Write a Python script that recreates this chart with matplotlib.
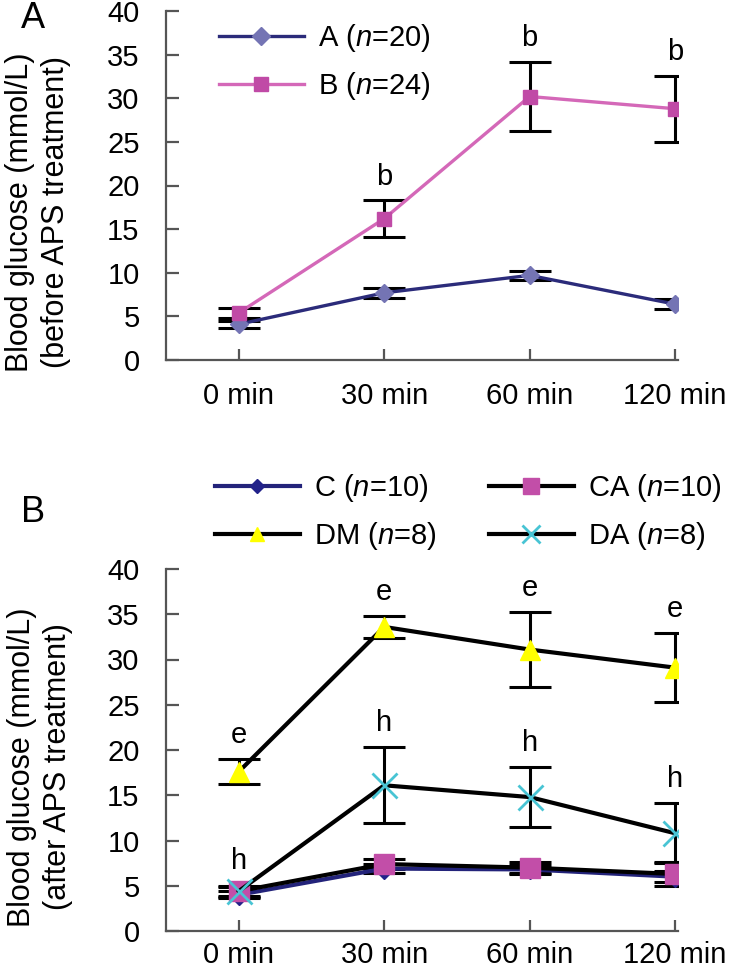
import numpy as np
import matplotlib
matplotlib.use('Agg')
import matplotlib.pyplot as plt

plt.rcParams['font.family'] = ['Liberation Sans', 'DejaVu Sans']
plt.rcParams['mathtext.fontset'] = 'custom'
plt.rcParams['mathtext.it'] = 'Liberation Sans:italic'
plt.rcParams['mathtext.rm'] = 'Liberation Sans'

times = ['0 min', '30 min', '60 min', '120 min']

# panel A (before APS treatment)
a_mean = [4.1, 7.7, 9.7, 6.4]
a_sd = [0.4, 0.6, 0.5, 0.6]
b_mean = [5.4, 16.2, 30.2, 28.8]
b_sd = [0.6, 2.1, 4.0, 3.8]
b_sig = ['', 'b', 'b', 'b']

# panel B (after APS treatment)
c_mean = [4.0, 6.9, 6.8, 6.0]
c_sd = [0.4, 0.5, 0.5, 0.6]
ca_mean = [4.4, 7.4, 7.0, 6.3]
ca_sd = [0.5, 0.6, 0.6, 1.3]
dm_mean = [17.6, 33.6, 31.1, 29.1]
dm_sd = [1.4, 1.2, 4.1, 3.8]
dm_sig = ['e', 'e', 'e', 'e']
da_mean = [4.4, 16.1, 14.8, 10.8]
da_sd = [0.6, 4.2, 3.3, 3.3]
da_sig = ['h', 'h', 'h', 'h']

x = np.arange(len(times))
W, H = 729, 968

fig = plt.figure(figsize=(W / 100, H / 100), dpi=100)


def setup(ax, pad_x):
    ax.set_xlim(-0.5, 3.02)
    ax.set_ylim(0, 40)
    ax.set_yticks(np.arange(0, 41, 5))
    ax.set_xticks(x)
    ax.set_xticklabels(times)
    for s in ['top', 'right']:
        ax.spines[s].set_visible(False)
    for s in ['left', 'bottom']:
        ax.spines[s].set_color('#555555')
        ax.spines[s].set_linewidth(1.6)
    ax.tick_params(axis='y', direction='in', length=9, width=1.6, color='#555555',
                   labelsize=21, pad=19)
    ax.tick_params(axis='x', direction='in', length=8, width=1.6, color='#555555',
                   labelsize=21, pad=pad_x)


def sig(ax, mean, sd, labels):
    for i in range(len(mean)):
        if labels[i]:
            ax.text(x[i], mean[i] + sd[i] + 2.7, labels[i], ha='center', va='center',
                    fontsize=21)


eb = dict(fmt='none', ecolor='black', elinewidth=2.2, capsize=15, capthick=2.2, zorder=2)

# ---- panel A
ax1 = fig.add_axes([166 / W, 1 - 360 / H, 512 / W, 349 / H])
setup(ax1, 16)
ax1.errorbar(x, a_mean, yerr=a_sd, **eb)
ax1.errorbar(x, b_mean, yerr=b_sd, **eb)
l1, = ax1.plot(x, a_mean, color='#2b2b7a', lw=2.4, marker='D', ms=9,
               mfc='#7474b4', mec='#7474b4', zorder=3)
l2, = ax1.plot(x, b_mean, color='#d468b8', lw=2.4, marker='s', ms=10,
               mfc='#c04aa6', mec='#c04aa6', zorder=3)
sig(ax1, b_mean, b_sd, b_sig)
fig.legend([l1, l2], [r'A ($\mathit{n}$=20)', r'B ($\mathit{n}$=24)'],
           loc='upper left', bbox_to_anchor=(219 / W, 1 - 22 / H), frameon=False,
           fontsize=21, handlelength=2.9, handletextpad=0.5, labelspacing=0.55,
           borderpad=0, borderaxespad=0)

# ---- panel B
ax2 = fig.add_axes([166 / W, 1 - 931 / H, 512 / W, 362 / H])
setup(ax2, 7)
for m, s in [(c_mean, c_sd), (ca_mean, ca_sd), (dm_mean, dm_sd), (da_mean, da_sd)]:
    ax2.errorbar(x, m, yerr=s, **eb)
k1, = ax2.plot(x, c_mean, color='#23237a', lw=3, marker='D', ms=10,
               mfc='#22228a', mec='#22228a', zorder=3)
k2, = ax2.plot(x, ca_mean, color='black', lw=3, marker='s', ms=15,
               mfc='#c24ea8', mec='#c24ea8', zorder=3)
k3, = ax2.plot(x, dm_mean, color='black', lw=3, marker='^', ms=14,
               mfc='#ffff00', mec='#ffff00', zorder=3)
k4, = ax2.plot(x, da_mean, color='black', lw=3, marker='x', ms=18, mew=2,
               mfc='#48c4d4', mec='#48c4d4', zorder=4)
sig(ax2, dm_mean, dm_sd, dm_sig)
sig(ax2, da_mean, da_sd, da_sig)
fig.legend([k1, k3, k2, k4],
           [r'C ($\mathit{n}$=10)', r'DM ($\mathit{n}$=8)',
            r'CA ($\mathit{n}$=10)', r'DA ($\mathit{n}$=8)'],
           loc='upper left', bbox_to_anchor=(215 / W, 1 - 472 / H), ncol=2,
           frameon=False, fontsize=21, handlelength=2.9, handletextpad=0.5,
           labelspacing=0.55, columnspacing=1.8, borderpad=0, borderaxespad=0,
           markerscale=0.75)

# y labels and panel letters
fig.text(38 / W, 1 - 212 / H, 'Blood glucose (mmol/L)\n(before APS treatment)',
         rotation=90, ha='center', va='center', fontsize=22, linespacing=1.25)
fig.text(40 / W, 1 - 767 / H, 'Blood glucose (mmol/L)\n(after APS treatment)',
         rotation=90, ha='center', va='center', fontsize=22, linespacing=1.25)
fig.text(33 / W, 1 - 18 / H, 'A', ha='center', va='center', fontsize=26)
fig.text(33 / W, 1 - 512 / H, 'B', ha='center', va='center', fontsize=26)

fig.savefig('out.png', dpi=100)
